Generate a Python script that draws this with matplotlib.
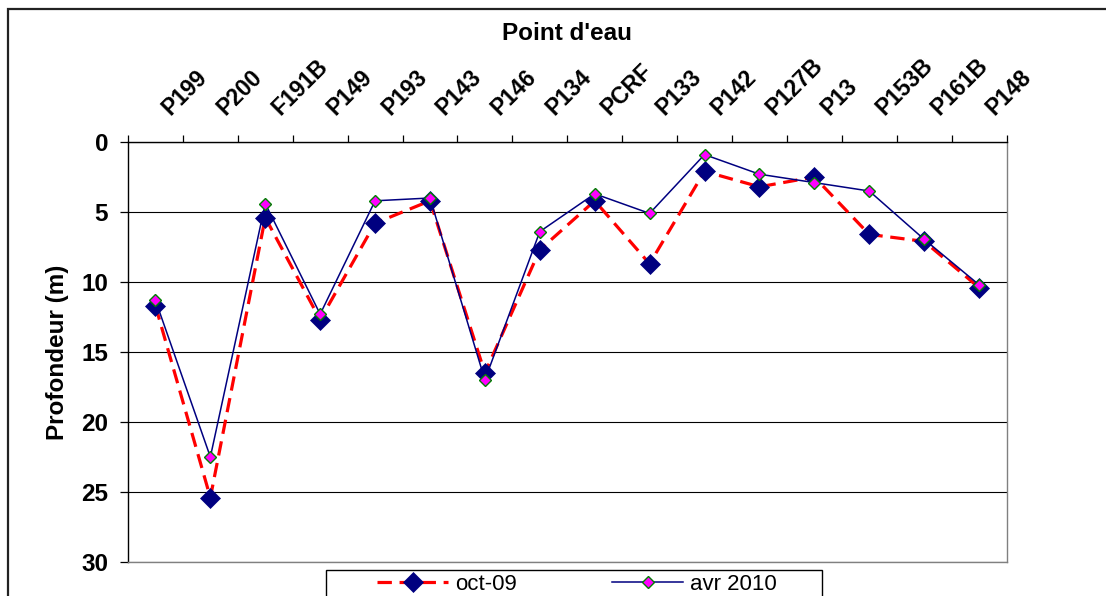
import numpy as np
import matplotlib
matplotlib.use("Agg")
import matplotlib.pyplot as plt
from matplotlib.lines import Line2D
from matplotlib.patches import Rectangle
from matplotlib.transforms import ScaledTranslation

plt.rcParams['font.family'] = ['Liberation Sans', 'DejaVu Sans']

categories = ['P199', 'P200', 'F191B', 'P149', 'P193', 'P143', 'P146', 'P134',
              'PCRF', 'P133', 'P142', 'P127B', 'P13', 'P153B', 'P161B', 'P148']
oct09 = [11.7, 25.4, 5.4, 12.7, 5.8, 4.2, 16.5, 7.7, 4.2, 8.7, 2.1, 3.2, 2.5, 6.6, 7.1, 10.4]
avr2010 = [11.3, 22.5, 4.4, 12.3, 4.2, 4.0, 17.0, 6.4, 3.7, 5.1, 0.9, 2.3, 2.9, 3.5, 6.95, 10.2]
series_labels = ['oct-09', 'avr 2010']
y_ticks = [0, 5, 10, 15, 20, 25, 30]

W, H = 1106, 596
fig = plt.figure(figsize=(W / 100, H / 100), dpi=100)
ax = fig.add_axes([128 / W, 1 - 562 / H, (1006.5 - 128) / W, 420 / H])

x = np.arange(len(categories)) + 0.5
navy = '#000080'
ax.plot(x, oct09, color='#FF0000', lw=2.3, dashes=(4.5, 2.4),
        marker='D', ms=9.8, mfc=navy, mec=navy, mew=0.5, zorder=3)
ax.plot(x, avr2010, color=navy, lw=1.1,
        marker='D', ms=5.8, mfc='#FF00FF', mec='#008000', mew=1.0, zorder=4)

ax.set_xlim(0, len(categories))
ax.set_ylim(30, 0)
ax.set_yticks(y_ticks)
ax.set_yticklabels([str(v) for v in y_ticks], fontsize=17.5, fontweight='bold')
ax.tick_params(axis='y', length=5.8, width=0.9, pad=8.5, color='black')
ax.yaxis.grid(True, color='black', lw=0.8)
ax.set_axisbelow(True)

ax.xaxis.tick_top()
ax.set_xticks(np.arange(len(categories) + 1))
ax.set_xticklabels([])
ax.set_xticks(x, minor=True)
ax.set_xticklabels(categories, minor=True, fontsize=16.5, fontweight='bold',
                   rotation=45, rotation_mode='anchor', ha='left', va='baseline')
ax.tick_params(axis='x', which='major', length=5.2, width=0.9, color='black', top=True, bottom=False)
ax.tick_params(axis='x', which='minor', length=0, pad=18.7, top=True, bottom=False)
shift = ScaledTranslation(15 / 100, 0, fig.dpi_scale_trans)
for lab in ax.xaxis.get_minorticklabels():
    lab.set_transform(lab.get_transform() + shift)

for s in ['left', 'top']:
    ax.spines[s].set_color('black')
    ax.spines[s].set_linewidth(1.0)
for s in ['right', 'bottom']:
    ax.spines[s].set_color('#808080')
    ax.spines[s].set_linewidth(1.0)

ax.text(0.5, (562 - 33) / 420, "Point d'eau", transform=ax.transAxes,
        ha='center', va='center', fontsize=17.5, fontweight='bold')
ax.set_ylabel('Profondeur (m)', fontsize=17.5, fontweight='bold', labelpad=9)

# outer chart frame
fig.patches.append(Rectangle((8 / W, -0.2), 1.2, 1.2 - 9 / H, transform=fig.transFigure,
                             fill=False, ec='#222222', lw=1.6))

# legend
handles = [
    Line2D([], [], color='#FF0000', lw=2.3, dashes=(4.5, 2.4), marker='D', ms=9.8,
           mfc=navy, mec=navy, mew=0.5),
    Line2D([], [], color=navy, lw=1.1, marker='D', ms=5.8, mfc='#FF00FF', mec='#008000', mew=1.0),
]
fig.legend(handles, series_labels, loc='center left', bbox_to_anchor=(377 / W, 1 - 584.5 / H),
           ncol=2, frameon=False, fontsize=16, handlelength=3.2, handletextpad=0.3,
           columnspacing=4.3, borderpad=0.0, borderaxespad=0.0)
fig.patches.append(Rectangle((326 / W, -0.1), (822 - 326) / W, 0.1 + 1 - 570 / H,
                             transform=fig.transFigure, fill=False, ec='black', lw=1.0))

fig.savefig('out.png', dpi=100)
